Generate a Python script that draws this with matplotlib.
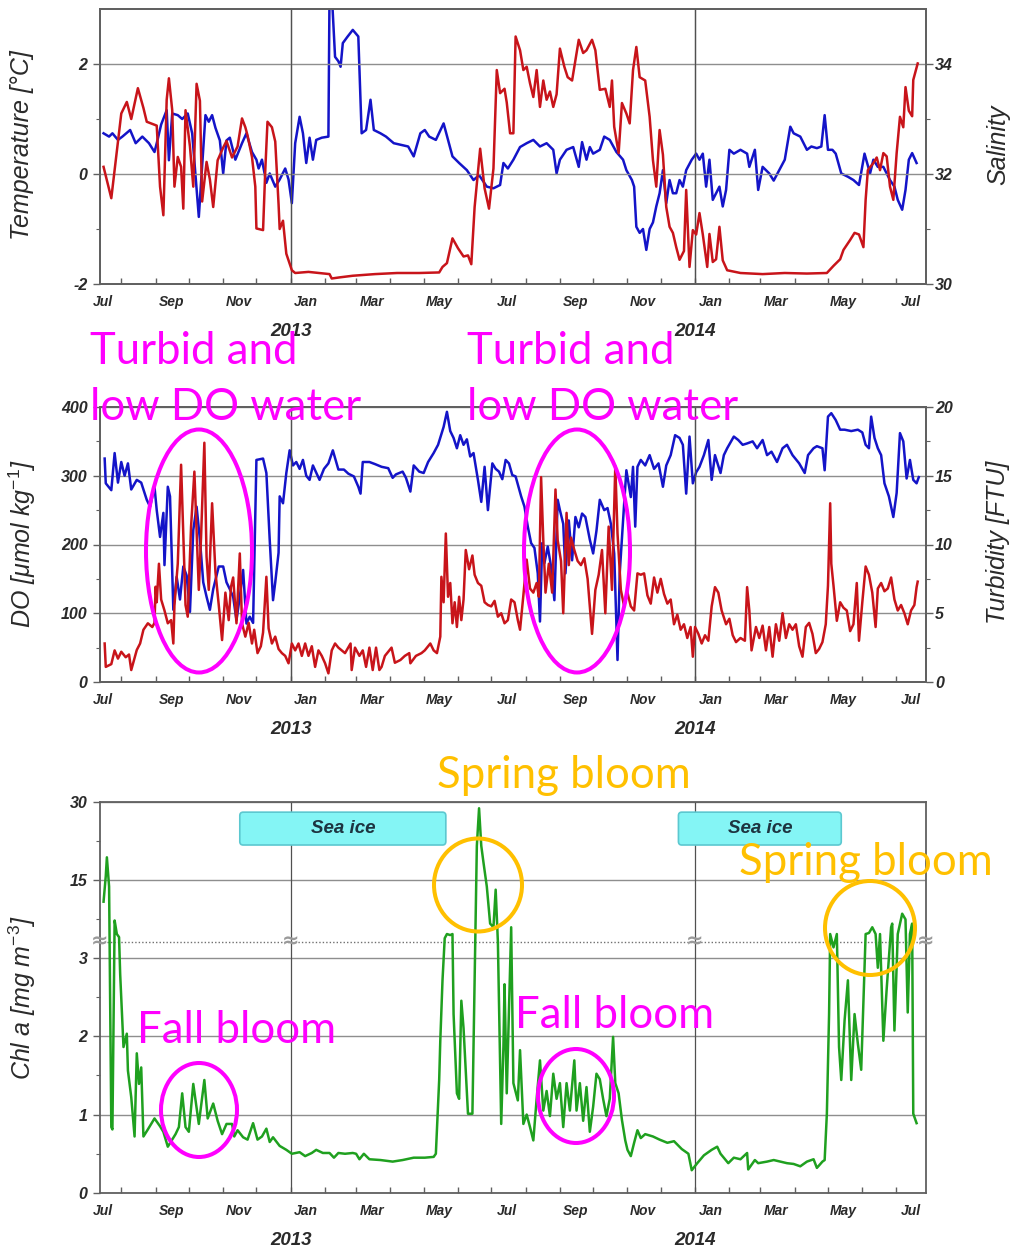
import numpy as np
import matplotlib
matplotlib.use("Agg")
import matplotlib.pyplot as plt
import matplotlib.dates as mdates
from matplotlib.patches import Ellipse, FancyBboxPatch
from matplotlib.ticker import FixedLocator, NullFormatter

plt.rcParams["font.family"] = ["Liberation Sans", "DejaVu Sans"]
plt.rcParams["mathtext.fontset"] = "custom"
plt.rcParams["mathtext.rm"] = "Liberation Sans"
plt.rcParams["mathtext.it"] = "Liberation Sans:italic"
plt.rcParams["axes.unicode_minus"] = False

START = np.datetime64("2012-07-01")

# days since 1 Jul 2012, value
TEMP_DAY = [15, 22, 31, 36, 40, 46, 51, 54, 63, 66, 69, 72, 74, 77, 79, 82, 85, 87, 89, 93,
            96, 99, 102, 104, 108, 111, 114, 118, 123, 126, 131, 136, 140, 143, 145, 149, 152,
            153, 159, 161, 163, 167, 170, 173, 174, 177, 180, 185, 188, 200, 210, 219, 221, 228,
            240, 260, 280, 300, 318, 321, 325, 330, 335, 340, 344, 347, 350, 355, 359, 363, 367,
            370, 373, 377, 379, 382, 385, 387, 391, 394, 397, 400, 403, 406, 409, 412, 415, 418,
            421, 424, 427, 431, 434, 438, 442, 444, 448, 451, 456, 459, 463, 468, 472, 474, 476,
            480, 483, 487, 490, 493, 496, 499, 504, 508, 511, 514, 517, 520, 523, 526, 529, 532,
            535, 539, 541, 544, 547, 550, 553, 556, 560, 562, 565, 568, 571, 574, 578, 590, 610,
            630, 650, 668, 674, 680, 683, 689, 693, 697, 701, 703, 705, 710, 713, 716, 719, 722,
            725, 728, 731, 734, 737, 739, 742, 745, 746, 750]
TEMP = [0.13, -0.44, 1.10, 1.31, 1.00, 1.56, 1.20, 0.95, 0.88, -0.23, -0.75, 1.35, 1.74, 1.16,
        -0.23, 0.31, 0.13, -0.63, 1.16, 0.50, -0.23, 1.64, 1.33, -0.50, 0.22, -0.10, -0.60, 0.25,
        0.48, 0.60, 0.30, 0.50, 1.01, 0.85, 0.70, 0.31, -0.23, -0.99, -1.02, 0.07, 0.95, 0.85,
        0.59, -0.55, -1.00, -0.85, -1.45, -1.75, -1.80, -1.78, -1.80, -1.82, -1.90, -1.88, -1.85,
        -1.82, -1.80, -1.80, -1.79, -1.69, -1.62, -1.17, -1.35, -1.50, -1.48, -1.64, -0.60, 0.46,
        -0.26, -0.63, 0.10, 1.89, 1.47, 1.55, 1.30, 0.74, 0.74, 2.50, 2.25, 1.89, 1.95, 1.65,
        1.40, 1.89, 1.22, 1.70, 1.35, 1.50, 1.22, 1.45, 2.28, 1.95, 1.76, 1.70, 2.19, 2.44, 2.20,
        2.25, 2.44, 2.25, 1.53, 1.55, 1.22, 1.70, 0.86, 0.38, 1.29, 1.10, 0.92, 1.89, 2.31, 1.76,
        1.70, 1.04, 0.25, -0.23, 0.80, 0.35, -0.60, -0.96, -1.07, -1.33, -1.56, -1.40, -0.29,
        -1.69, -1.02, -1.10, -0.71, -1.10, -1.69, -1.09, -1.60, -1.55, -0.96, -1.57, -1.75, -1.80,
        -1.82, -1.80, -1.81, -1.80, -1.67, -1.55, -1.38, -1.20, -1.07, -1.10, -1.33, -0.47, 0.07,
        0.20, 0.30, 0.07, 0.38, 0.32, -0.23, -0.47, 0.38, 1.04, 0.85, 1.58, 1.15, 1.05, 1.71, 2.01]

SAL_DAY = [15, 20, 23, 28, 32, 39, 44, 50, 56, 61, 64, 67, 72, 74, 77, 82, 86, 91, 95, 101, 104,
           107, 110, 113, 116, 120, 123, 126, 129, 134, 140, 144, 149, 153, 155, 158, 162, 165,
           170, 174, 179, 182, 185, 188, 192, 195, 198, 201, 204, 207, 212, 218, 219, 221, 224,
           227, 229, 231, 235, 240, 245, 248, 252, 256, 259, 265, 270, 277, 290, 295, 301, 305,
           309, 315, 322, 326, 330, 336, 343, 349, 354, 361, 367, 373, 376, 380, 385, 391, 397,
           403, 409, 415, 421, 424, 427, 433, 439, 444, 447, 451, 454, 457, 463, 467, 472, 478,
           484, 487, 492, 494, 496, 499, 502, 505, 508, 511, 514, 517, 520, 523, 526, 529, 532,
           535, 538, 541, 546, 550, 553, 556, 559, 562, 565, 568, 571, 574, 577, 580, 584, 590,
           596, 598, 603, 606, 610, 616, 620, 625, 630, 635, 638, 644, 650, 654, 659, 663, 666,
           669, 673, 676, 681, 687, 692, 697, 702, 707, 710, 714, 719, 725, 729, 732, 736, 739,
           742, 745, 749]
SAL = [32.74, 32.68, 32.74, 32.62, 32.68, 32.80, 32.56, 32.68, 32.56, 32.40, 32.64, 32.90, 33.16,
       32.25, 33.10, 33.07, 33.00, 33.10, 32.74, 31.22, 32.13, 33.07, 32.95, 33.07, 32.84, 32.61,
       32.01, 32.61, 32.66, 32.26, 32.56, 32.74, 32.40, 32.26, 32.10, 32.26, 31.84, 32.01, 31.77,
       31.90, 32.10, 31.90, 31.47, 32.56, 33.04, 32.74, 32.20, 32.66, 32.26, 32.62, 32.66, 32.68,
       35.30, 35.30, 34.13, 34.05, 33.95, 34.38, 34.49, 34.62, 34.50, 32.74, 32.80, 33.35, 32.80,
       32.74, 32.68, 32.56, 32.50, 32.32, 32.74, 32.80, 32.68, 32.62, 32.92, 32.62, 32.32, 32.20,
       32.07, 31.89, 31.98, 31.77, 31.74, 31.80, 32.20, 32.10, 32.26, 32.49, 32.56, 32.62, 32.50,
       32.56, 32.44, 32.01, 32.26, 32.44, 32.49, 32.13, 32.58, 32.26, 32.49, 32.37, 32.44, 32.68,
       32.62, 32.40, 32.26, 32.07, 31.89, 31.77, 31.04, 30.93, 31.00, 30.62, 31.00, 31.12, 31.41,
       31.65, 32.07, 31.47, 31.89, 31.65, 31.65, 31.89, 31.77, 32.07, 32.26, 32.37, 32.26, 32.37,
       31.77, 32.26, 31.53, 31.65, 31.77, 31.41, 31.71, 32.44, 32.37, 32.44, 32.37, 32.13, 32.44,
       31.71, 32.13, 32.01, 31.88, 32.07, 32.26, 32.86, 32.74, 32.68, 32.44, 32.50, 32.47, 32.50,
       33.07, 32.44, 32.44, 32.37, 32.01, 31.95, 31.89, 31.80, 32.37, 32.01, 32.26, 32.13, 32.13,
       31.89, 31.77, 31.53, 31.35, 31.71, 32.26, 32.38, 32.20]

DO_DAY = [16, 17, 22, 25, 28, 31, 34, 37, 40, 45, 49, 54, 57, 61, 63, 66, 69, 70, 73, 75, 78, 81,
          84, 87, 90, 93, 96, 99, 102, 105, 108, 111, 114, 119, 123, 126, 129, 132, 135, 138, 141,
          144, 147, 150, 153, 159, 162, 165, 167, 168, 170, 173, 174, 177, 180, 183, 186, 189, 192,
          195, 198, 201, 204, 210, 214, 218, 222, 227, 232, 236, 241, 245, 247, 249, 255, 260, 266,
          272, 276, 279, 285, 288, 292, 295, 300, 304, 308, 313, 317, 322, 325, 328, 331, 334, 337,
          340, 343, 346, 349, 353, 356, 359, 362, 366, 369, 372, 375, 378, 381, 384, 387, 392, 395,
          398, 401, 404, 407, 409, 411, 413, 416, 419, 422, 425, 427, 430, 432, 435, 438, 441, 444,
          447, 450, 454, 457, 460, 463, 467, 470, 473, 476, 479, 481, 485, 487, 491, 493, 495, 497,
          500, 504, 508, 512, 516, 520, 523, 527, 531, 535, 538, 541, 544, 547, 550, 553, 557, 561,
          564, 567, 572, 575, 578, 584, 588, 592, 596, 601, 605, 610, 614, 618, 623, 628, 632, 637,
          643, 648, 651, 656, 659, 664, 666, 669, 672, 676, 680, 684, 690, 696, 700, 703, 706, 708,
          711, 714, 717, 720, 724, 728, 731, 734, 737, 740, 743, 746, 749, 751]
DO = [325, 289, 279, 333, 290, 320, 300, 318, 280, 294, 290, 265, 255, 284, 250, 211, 246, 170,
      284, 270, 105, 153, 120, 168, 155, 102, 221, 255, 207, 145, 124, 105, 135, 168, 168, 145, 135,
      124, 90, 124, 163, 85, 95, 86, 323, 325, 304, 207, 148, 119, 145, 188, 270, 260, 304, 337,
      315, 320, 310, 323, 300, 294, 315, 294, 310, 318, 337, 309, 309, 303, 299, 284, 274, 320, 320,
      317, 313, 311, 297, 302, 306, 297, 277, 315, 306, 304, 320, 333, 345, 371, 393, 365, 355, 340,
      359, 345, 353, 328, 333, 294, 262, 313, 250, 318, 310, 306, 295, 323, 318, 301, 299, 270, 255,
      226, 202, 195, 158, 88, 202, 173, 197, 168, 119, 265, 250, 230, 158, 235, 177, 240, 225, 245,
      240, 207, 187, 220, 265, 250, 253, 230, 187, 32, 158, 260, 308, 269, 313, 226, 313, 323, 315,
      330, 310, 318, 284, 315, 330, 359, 355, 345, 274, 357, 289, 305, 313, 330, 352, 294, 330, 304,
      330, 340, 357, 352, 345, 347, 350, 340, 352, 330, 335, 320, 340, 345, 330, 318, 304, 330, 340,
      343, 340, 308, 386, 391, 381, 367, 367, 365, 367, 363, 345, 340, 386, 355, 340, 330, 289, 270,
      240, 275, 362, 350, 296, 323, 294, 289, 298]

TURB_DAY = [16, 17, 22, 25, 28, 31, 35, 38, 40, 45, 48, 51, 55, 59, 61, 62, 63, 65, 67, 70, 73, 76,
            78, 79, 82, 85, 87, 89, 91, 94, 97, 99, 101, 103, 106, 108, 110, 113, 116, 119, 122,
            125, 128, 130, 132, 135, 138, 140, 143, 146, 149, 151, 154, 157, 159, 162, 164, 167,
            170, 173, 176, 179, 182, 185, 188, 191, 194, 197, 200, 203, 206, 209, 212, 215, 218,
            221, 224, 227, 230, 233, 238, 239, 242, 246, 249, 252, 255, 258, 261, 264, 266, 269,
            275, 278, 283, 287, 291, 292, 297, 302, 305, 310, 313, 316, 319, 320, 322, 324, 326,
            328, 330, 332, 334, 336, 338, 340, 342, 345, 348, 350, 353, 356, 359, 362, 365, 368,
            371, 374, 377, 380, 383, 386, 389, 391, 394, 397, 400, 403, 406, 408, 410, 412, 414,
            417, 420, 423, 425, 428, 430, 433, 435, 437, 440, 443, 446, 449, 452, 456, 459, 462,
            465, 468, 471, 474, 477, 479, 482, 485, 488, 491, 494, 497, 500, 503, 506, 509, 512,
            515, 518, 521, 524, 527, 530, 533, 536, 539, 542, 545, 547, 549, 552, 555, 558, 561,
            564, 567, 570, 573, 577, 580, 583, 586, 590, 594, 596, 598, 600, 604, 607, 610, 613,
            616, 619, 622, 625, 628, 631, 634, 637, 640, 643, 646, 649, 652, 655, 658, 661, 664,
            667, 669, 671, 672, 674, 677, 680, 683, 686, 689, 692, 695, 697, 700, 703, 706, 709,
            712, 714, 717, 720, 723, 726, 729, 732, 735, 738, 741, 744, 747, 749, 750]
TURB = [2.8, 1.1, 1.3, 2.3, 1.7, 2.2, 1.8, 2.0, 0.87, 2.33, 2.8, 3.8, 4.27, 4.0, 4.3, 6.93, 5.8,
        8.6, 6.0, 5.2, 4.27, 4.5, 2.8, 5.6, 8.6, 15.8, 10.6, 5.6, 4.75, 11.3, 15.3, 11.0, 6.7, 10.5,
        17.4, 9.1, 6.7, 13.0, 8.0, 5.6, 3.05, 6.5, 4.5, 6.9, 7.6, 4.27, 9.35, 4.27, 3.3, 4.3, 2.8,
        3.8, 2.1, 2.6, 3.6, 7.65, 3.9, 2.8, 3.3, 2.4, 2.1, 1.9, 1.36, 2.8, 2.3, 2.8, 1.9, 2.8, 1.9,
        2.6, 1.1, 2.3, 1.9, 1.36, 0.63, 2.3, 2.8, 2.5, 2.3, 2.1, 2.8, 0.87, 2.5, 1.9, 2.3, 1.1, 2.5,
        0.87, 2.5, 0.87, 1.1, 1.9, 2.5, 1.4, 1.6, 1.9, 2.1, 1.36, 1.9, 2.1, 2.3, 2.8, 2.3, 2.1, 3.3,
        7.65, 5.8, 10.8, 6.2, 7.2, 4.27, 5.8, 4.0, 6.2, 4.5, 6.0, 9.6, 8.2, 9.2, 7.8, 7.2, 7.0, 5.8,
        5.6, 5.5, 5.9, 4.75, 5.0, 4.27, 4.5, 6.0, 5.8, 4.5, 3.8, 6.3, 8.9, 6.8, 6.5, 7.2, 6.2, 14.9,
        10.3, 6.5, 8.6, 6.5, 14.0, 10.3, 8.8, 5.0, 12.3, 8.5, 10.5, 9.6, 8.8, 8.5, 9.0, 7.5, 3.5,
        6.7, 7.8, 9.6, 5.0, 11.3, 6.7, 15.7, 10.8, 6.7, 5.5, 6.5, 5.5, 5.2, 7.9, 7.8, 7.9, 6.3, 5.7,
        7.6, 6.5, 7.5, 6.4, 5.7, 6.0, 4.2, 4.9, 3.8, 4.2, 3.2, 4.0, 1.84, 4.0, 3.5, 2.8, 3.4, 3.0,
        5.5, 6.9, 6.5, 5.2, 4.2, 4.6, 3.4, 2.9, 3.2, 3.0, 6.9, 5.2, 2.3, 4.0, 3.2, 4.1, 2.3, 4.0,
        1.84, 4.2, 3.0, 5.0, 3.2, 4.2, 3.8, 4.2, 2.6, 1.84, 4.0, 4.3, 3.5, 2.1, 2.4, 2.9, 4.2, 7.0,
        13.0, 8.6, 7.0, 4.45, 5.8, 5.4, 5.2, 3.7, 4.2, 7.2, 3.0, 5.8, 8.4, 7.8, 6.5, 4.0, 6.8, 7.2,
        6.6, 6.8, 7.6, 6.0, 5.2, 5.6, 5.0, 4.2, 5.2, 5.6, 6.9, 7.3]

CHL_DAY = [15, 17, 18, 20, 22, 23, 25, 27, 29, 30, 33, 36, 37, 40, 43, 45, 47, 49, 51, 55, 61, 66,
           69, 73, 80, 83, 86, 89, 92, 96, 101, 106, 109, 114, 118, 122, 126, 131, 133, 136, 141,
           145, 150, 154, 158, 162, 165, 168, 174, 180, 185, 192, 197, 203, 207, 213, 219, 223,
           227, 233, 240, 243, 246, 250, 255, 265, 276, 285, 295, 305, 313, 315, 318, 319, 321,
           323, 325, 328, 330, 331, 334, 336, 338, 340, 342, 344, 348, 350, 352, 354, 356, 358,
           361, 364, 367, 369, 371, 374, 376, 377, 379, 383, 385, 389, 391, 394, 397, 400, 403,
           406, 409, 412, 415, 418, 421, 424, 427, 430, 433, 436, 440, 442, 445, 448, 451, 454,
           457, 460, 463, 466, 469, 472, 475, 477, 480, 483, 486, 488, 491, 494, 497, 500, 504,
           511, 517, 524, 530, 537, 543, 546, 551, 557, 564, 569, 572, 579, 584, 590, 596, 597,
           603, 606, 614, 620, 626, 632, 638, 644, 650, 656, 659, 664, 666, 668, 670, 671, 674,
           677, 679, 681, 684, 687, 690, 693, 696, 699, 703, 706, 709, 712, 714, 716, 719, 722,
           726, 727, 729, 732, 736, 739, 741, 743, 745, 746, 749]
CHL = [10.9, 15.8, 19.4, 13.8, 0.84, 0.81, 7.3, 4.7, 4.1, 2.79, 1.86, 2.03, 1.56, 1.22, 0.72,
       1.78, 1.39, 1.60, 0.72, 0.81, 0.95, 0.85, 0.78, 0.59, 0.75, 0.84, 1.27, 0.84, 0.78, 1.39,
       0.88, 1.44, 0.95, 1.14, 0.92, 0.75, 0.88, 0.88, 0.72, 0.80, 0.71, 0.68, 0.89, 0.68, 0.72,
       0.82, 0.65, 0.71, 0.60, 0.55, 0.50, 0.52, 0.47, 0.51, 0.55, 0.51, 0.51, 0.45, 0.51, 0.50,
       0.51, 0.50, 0.43, 0.50, 0.43, 0.42, 0.40, 0.42, 0.45, 0.45, 0.46, 0.50, 1.44, 1.94, 2.71,
       3.9, 4.7, 4.5, 4.7, 2.28, 1.27, 1.20, 2.45, 2.10, 1.56, 1.01, 1.01, 2.71, 21.6, 28.8, 21.6,
       18.4, 13.8, 6.7, 6.0, 13.2, 3.2, 0.88, 1.86, 2.66, 1.27, 6.0, 1.4, 1.18, 1.82, 0.88, 1.00,
       0.84, 0.67, 1.20, 1.69, 1.05, 1.30, 0.98, 1.52, 1.20, 1.40, 0.84, 1.40, 1.05, 1.69, 1.05,
       1.40, 0.92, 1.35, 0.78, 1.10, 1.52, 1.45, 1.20, 0.98, 1.20, 1.99, 1.40, 1.27, 0.93, 0.67,
       0.55, 0.47, 0.64, 0.80, 0.70, 0.75, 0.72, 0.68, 0.64, 0.66, 0.56, 0.50, 0.29, 0.38, 0.48,
       0.55, 0.59, 0.50, 0.38, 0.45, 0.43, 0.51, 0.30, 0.42, 0.38, 0.40, 0.42, 0.40, 0.38, 0.37,
       0.34, 0.40, 0.43, 0.32, 0.40, 0.42, 1.01, 2.28, 4.7, 3.13, 4.7, 1.86, 1.44, 2.20, 2.71,
       1.44, 2.28, 1.90, 1.57, 4.7, 4.9, 6.0, 4.7, 2.87, 4.7, 1.94, 2.60, 6.0, 6.7, 2.07, 4.7, 8.6,
       7.5, 2.3, 4.7, 6.7, 1.01, 0.89]

SEA_ICE = [("2012-11-16", "2013-05-21"), ("2013-12-17", "2014-05-13")]
YEARS = ["2013", "2014"]

RED = "#C8141A"
BLUE = "#1414C8"
GREEN = "#1FA01F"
GRID = "#8e8e8e"
SPINE = "#606060"
TXT = "#2a2a2a"
MAGENTA = "#FF00FF"
ORANGE = "#FFC000"
LW = 1.8

CHL_BREAK = 3.2
CHL_K = 0.0665

W, H = 1014, 1250


def dates(days):
    return START + np.asarray(days, dtype="timedelta64[D]")


def chl_fwd(v):
    v = np.asarray(v, dtype=float)
    return np.where(v <= CHL_BREAK, v, CHL_BREAK + (v - CHL_BREAK) * CHL_K)


def chl_inv(t):
    t = np.asarray(t, dtype=float)
    return np.where(t <= CHL_BREAK, t, CHL_BREAK + (t - CHL_BREAK) / CHL_K)


def tick_font(labels):
    for lb in labels:
        lb.set_fontstyle("italic")
        lb.set_fontweight("bold")
        lb.set_color(TXT)


def style_time_axis(ax):
    ax.set_xlim(np.datetime64("2012-07-12T19:00"), np.datetime64("2014-07-28T12:00"))
    ax.xaxis.set_major_locator(mdates.MonthLocator())
    ax.xaxis.set_major_formatter(NullFormatter())
    ax.xaxis.set_minor_locator(mdates.MonthLocator(bymonth=[1, 3, 5, 7, 9, 11], bymonthday=15))
    ax.xaxis.set_minor_formatter(mdates.DateFormatter("%b"))
    ax.tick_params(axis="x", which="major", direction="in", length=4, width=1, color=SPINE)
    ax.tick_params(axis="x", which="minor", length=0, pad=8, labelsize=10)
    tick_font(ax.get_xticklabels(minor=True))
    for yr in YEARS:
        ax.axvline(np.datetime64(yr + "-01-01"), color="#505050", lw=0.9, zorder=1)
        ax.annotate(yr, xy=(np.datetime64(yr + "-01-01"), 0), xycoords=ax.get_xaxis_transform(),
                    xytext=(0, -34), textcoords="offset points", ha="center", va="center",
                    fontsize=13.5, fontstyle="italic", fontweight="bold", color=TXT)
    for s in ax.spines.values():
        s.set_color(SPINE)
        s.set_linewidth(1.3)


def style_y(ax, side, major, minor, grid=False):
    ax.yaxis.set_major_locator(FixedLocator(major))
    ax.yaxis.set_minor_locator(FixedLocator(minor))
    ax.tick_params(axis="y", which="major", direction="out", length=5, width=1, color=SPINE,
                   labelsize=11.5, pad=4 if side == "left" else 1.5)
    ax.tick_params(axis="y", which="minor", direction="out", length=3, width=0.8, color=SPINE)
    tick_font(ax.get_yticklabels())
    if grid:
        ax.grid(axis="y", which="major", color=GRID, lw=1.0)
        ax.set_axisbelow(True)


fig = plt.figure(figsize=(W / 100, H / 100), dpi=100)


def px_axes(x0, y0, x1, y1):
    return fig.add_axes([x0 / W, 1 - y1 / H, (x1 - x0) / W, (y1 - y0) / H])


def side_label(x, y, text):
    fig.text(x / W, 1 - y / H, text, rotation=90, ha="center", va="center",
             fontsize=18, fontstyle="italic", color=TXT)


# temperature / salinity
ax1 = px_axes(100, 9, 926, 284)
ax1r = ax1.twinx()
ax1r.plot(dates(SAL_DAY), SAL, color=BLUE, lw=LW)
ax1.plot(dates(TEMP_DAY), TEMP, color=RED, lw=LW)
ax1.set_zorder(ax1r.get_zorder() + 1)
ax1.patch.set_visible(False)
ax1.set_ylim(-2, 3)
ax1r.set_ylim(30, 35)
style_time_axis(ax1)
style_time_axis(ax1r)
style_y(ax1, "left", [-2, 0, 2], [-1, 1], grid=True)
style_y(ax1r, "right", [30, 32, 34], [31, 33])
ax1r.grid(False)
for t in ax1r.texts:
    t.set_visible(False)
side_label(22, 145, "Temperature [°C]")
side_label(998, 145, "Salinity")

# dissolved oxygen / turbidity
ax2 = px_axes(100, 407, 926, 682)
ax2r = ax2.twinx()
ax2.plot(dates(DO_DAY), DO, color=BLUE, lw=LW)
ax2r.plot(dates(TURB_DAY), TURB, color=RED, lw=LW)
ax2.set_ylim(0, 400)
ax2r.set_ylim(0, 20)
style_time_axis(ax2)
style_time_axis(ax2r)
style_y(ax2, "left", [0, 100, 200, 300, 400], [50, 150, 250, 350], grid=True)
style_y(ax2r, "right", [0, 5, 10, 15, 20], [2.5, 7.5, 12.5, 17.5])
for t in ax2r.texts:
    t.set_visible(False)
side_label(22, 543, "DO [μmol kg$^{-1}$]")
side_label(998, 542, "Turbidity [FTU]")

# chlorophyll a with a broken axis
ax3 = px_axes(100, 802, 926, 1193)
ax3.set_yscale("function", functions=(chl_fwd, chl_inv))
ax3.set_ylim(0, 30)
ax3.plot(dates(CHL_DAY), CHL, color=GREEN, lw=LW, zorder=3)
style_time_axis(ax3)
style_y(ax3, "left", [0, 1, 2, 3, 15, 30], [0.5, 1.5, 2.5, 7.5, 22.5], grid=True)
ax3.axhline(CHL_BREAK, color="#707070", lw=1.0, ls=(0, (1, 1.5)), zorder=2)
for xb in [np.datetime64("2012-07-12T19:00"), np.datetime64("2013-01-01"),
           np.datetime64("2014-01-01"), np.datetime64("2014-07-28T12:00")]:
    ax3.text(xb, CHL_BREAK, "≈", ha="center", va="center", fontsize=15, color="#9a9a9a",
             fontweight="bold", clip_on=False, zorder=5, family="DejaVu Sans")
for a, b in SEA_ICE:
    x0 = mdates.date2num(np.datetime64(a))
    x1 = mdates.date2num(np.datetime64(b))
    box = FancyBboxPatch((x0, 0.890), x1 - x0, 0.084, boxstyle="round,pad=0,rounding_size=3",
                         mutation_aspect=0.003, transform=ax3.get_xaxis_transform(),
                         facecolor="#84F5F5", edgecolor="#5CC8D0", lw=1.2, zorder=4)
    ax3.add_patch(box)
    ax3.text((x0 + x1) / 2, 0.932, "Sea ice", transform=ax3.get_xaxis_transform(),
             ha="center", va="center", fontsize=13.5, fontstyle="italic", fontweight="bold",
             color="#1d3440", zorder=5)
side_label(22, 997, "Chl a [mg m$^{-3}$]")

# call-outs drawn over the panels in pixel space
ov = fig.add_axes([0, 0, 1, 1], zorder=10)
ov.set_xlim(0, W)
ov.set_ylim(H, 0)
ov.axis("off")
ov.patch.set_visible(False)

note_font = dict(family=["Lato", "DejaVu Sans"], fontsize=31.5, va="baseline", ha="left")
ov.text(90, 364, "Turbid and", color=MAGENTA, **note_font)
ov.text(90, 420, "low DO water", color=MAGENTA, **note_font)
ov.text(467, 364, "Turbid and", color=MAGENTA, **note_font)
ov.text(467, 420, "low DO water", color=MAGENTA, **note_font)
ov.text(437, 788, "Spring bloom", color=ORANGE, **note_font)
ov.text(739, 875, "Spring bloom", color=ORANGE, **note_font)
ov.text(137, 1043, "Fall bloom", color=MAGENTA, **note_font)
ov.text(515, 1028, "Fall bloom", color=MAGENTA, **note_font)

for cx, cy, w, h, col in [(199, 551, 106, 243, MAGENTA), (577, 551, 106, 243, MAGENTA),
                          (478, 885, 88, 93, ORANGE), (870, 928, 90, 94, ORANGE),
                          (199, 1110, 76, 94, MAGENTA), (576, 1096, 76, 94, MAGENTA)]:
    ov.add_patch(Ellipse((cx, cy), w, h, fill=False, edgecolor=col, lw=2.9))

fig.savefig("out.png", dpi=100)
